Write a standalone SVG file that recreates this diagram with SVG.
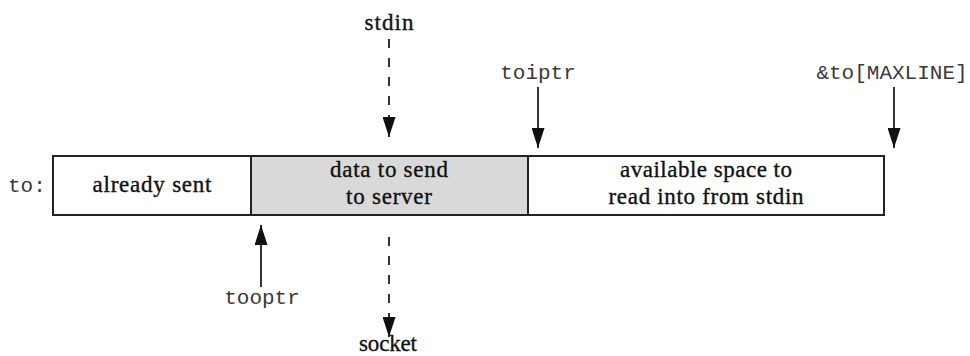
<svg xmlns="http://www.w3.org/2000/svg" width="970" height="356" viewBox="0 0 970 356">
<style>
.serif{font-family:"Liberation Serif","DejaVu Serif",serif;font-size:23px;fill:#111;stroke:#111;stroke-width:0.35;text-anchor:middle}
.mono{font-family:"Liberation Mono","DejaVu Sans Mono",monospace;font-size:21px;fill:#3a3a3a}
.cell{stroke:#222;stroke-width:2}
.arr{stroke:#333;stroke-width:2;fill:none}
.dash{stroke-dasharray:9 10}
</style>
<defs>
<marker id="head" viewBox="0 0 20 13" refX="20" refY="6.5" markerWidth="20" markerHeight="13" markerUnits="userSpaceOnUse" orient="auto">
<path d="M0,0 L20,6.5 L0,13 Z" fill="#111"/>
</marker>
</defs>
<rect width="970" height="356" fill="#fff"/>
<g id="label-to"><text class="mono" x="8" y="192">to:</text></g>
<g id="cell-sent">
<rect class="cell" x="53" y="156" width="198" height="59" fill="#fff"/>
<text class="serif" x="152" y="192" textLength="119">already sent</text>
</g>
<g id="cell-data">
<rect class="cell" x="251" y="156" width="277" height="59" fill="#d9d9d9"/>
<text class="serif" x="389" y="177" textLength="118">data to send</text>
<text class="serif" x="389" y="204" textLength="86">to server</text>
</g>
<g id="cell-avail">
<rect class="cell" x="528" y="156" width="356" height="59" fill="#fff"/>
<text class="serif" x="706" y="177" textLength="172">available space to</text>
<text class="serif" x="706" y="204" textLength="195">read into from stdin</text>
</g>
<g id="label-stdin"><text class="serif" x="389" y="30" textLength="49">stdin</text></g>
<g id="label-socket"><text class="serif" x="388" y="351" textLength="58">socket</text></g>
<g id="label-toiptr"><text class="mono" x="538" y="79" text-anchor="middle">toiptr</text></g>
<g id="label-maxline"><text class="mono" x="892" y="79" text-anchor="middle">&amp;to[MAXLINE]</text></g>
<g id="label-tooptr"><text class="mono" x="262" y="304" text-anchor="middle">tooptr</text></g>
<g id="connectors">
<line class="arr dash" x1="389" y1="39" x2="389" y2="137" marker-end="url(#head)"/>
<line class="arr" x1="538" y1="87" x2="538" y2="148" marker-end="url(#head)"/>
<line class="arr" x1="894" y1="87" x2="894" y2="148" marker-end="url(#head)"/>
<line class="arr" x1="261" y1="287" x2="261" y2="225" marker-end="url(#head)"/>
<line class="arr dash" x1="389" y1="237" x2="389" y2="337" marker-end="url(#head)"/>
</g>
</svg>
